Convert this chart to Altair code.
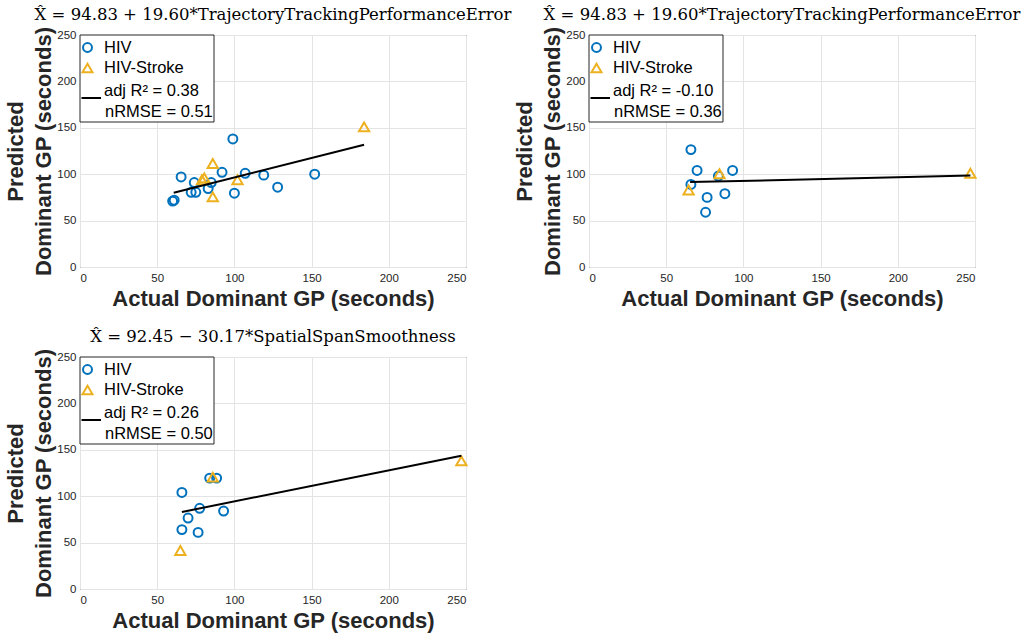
import altair as alt
import pandas as pd

# ---- data -------------------------------------------------------------
groups = ["HIV", "HIV-Stroke"]
group_colors = ["#0072BD", "#EDB120"]
group_shapes = ["circle", "triangle-up"]

titles = [
    "X\u0302 = 94.83 + 19.60*TrajectoryTrackingPerformanceError",
    "X\u0302 = 94.83 + 19.60*TrajectoryTrackingPerformanceError",
    "X\u0302 = 92.45 \u2212 30.17*SpatialSpanSmoothness",
]
adj_r2 = ["0.38", "-0.10", "0.26"]
nrmse = ["0.51", "0.36", "0.50"]

# panel 1
hiv_x_1 = [60, 61, 65.5, 72, 75, 74, 83, 85, 92, 99, 100, 107, 119, 128, 152]
hiv_y_1 = [71, 72, 97, 80.5, 80.5, 91, 84.5, 91, 102, 138, 79.5, 101, 99, 86, 100]
str_x_1 = [184, 86, 79, 80.5, 102, 86]
str_y_1 = [151, 111.5, 94, 96, 94, 75.5]
fit_x_1 = [60.7, 184]
fit_y_1 = [80, 131.7]

# panel 2
hiv_x_2 = [66, 70, 93, 66, 76.5, 75.5, 88, 83.8]
hiv_y_2 = [126.5, 104, 104, 89, 75, 59, 79, 98]
str_x_2 = [64.5, 84.5, 247]
str_y_2 = [83, 100.5, 101]
fit_x_2 = [65.5, 247]
fit_y_2 = [91.5, 98.5]

# panel 3
hiv_x_3 = [84, 88.5, 66, 77.5, 93, 70, 66, 76.5]
hiv_y_3 = [119.5, 119.5, 104, 87, 84, 76.5, 64, 61]
str_x_3 = [86, 65, 247]
str_y_3 = [120.5, 41.5, 138]
fit_x_3 = [66, 247]
fit_y_3 = [83, 143.5]

tick_values = [0, 50, 100, 150, 200, 250]

W, H = 386, 232
SANS = "Liberation Sans"
AXIS_GREY = "#262626"


def scatter_frame(hx, hy, sx, sy):
    rows = [{"actual": x, "pred": y, "group": groups[0]} for x, y in zip(hx, hy)]
    rows += [{"actual": x, "pred": y, "group": groups[1]} for x, y in zip(sx, sy)]
    return pd.DataFrame(rows)


x_axis = alt.Axis(
    title="Actual Dominant GP (seconds)", values=tick_values, grid=True,
    gridColor="#e4e4e4", domain=False, ticks=False,
    labelFont=SANS, labelFontSize=11.5, labelColor=AXIS_GREY, labelPadding=5,
    titleFont=SANS, titleFontSize=22, titleFontWeight="bold",
    titleColor=AXIS_GREY, titlePadding=5,
)
y_axis = alt.Axis(
    title=["Predicted", "Dominant GP (seconds)"], values=tick_values, grid=True,
    gridColor="#e4e4e4", domain=False, ticks=False,
    labelFont=SANS, labelFontSize=11.5, labelColor=AXIS_GREY, labelPadding=4,
    titleFont=SANS, titleFontSize=22, titleFontWeight="bold",
    titleColor=AXIS_GREY, titlePadding=1, titleLineHeight=28,
)
x_scale = alt.Scale(domain=[0, 250], nice=False)
y_scale = alt.Scale(domain=[0, 250], nice=False)

one_row = alt.Data(values=[{}])


def legend_layers(r2, rmse):
    box = alt.Chart(one_row).mark_rect(
        fill="white", stroke=AXIS_GREY, strokeWidth=1
    ).encode(x=alt.value(0), x2=alt.value(134), y=alt.value(0), y2=alt.value(87))

    layers = [box]
    for i, (g, c, s) in enumerate(zip(groups, group_colors, group_shapes)):
        ypos = 12.5 + 20.5 * i
        layers.append(
            alt.Chart(one_row).mark_point(
                shape=s, filled=False, color=c, strokeWidth=2, opacity=1,
                size=80 if s == "circle" else 100,
            ).encode(x=alt.value(7.5), y=alt.value(ypos))
        )
        layers.append(
            alt.Chart(one_row).mark_text(
                text=g, font=SANS, fontSize=16.5, align="left", baseline="middle",
                color="black",
            ).encode(x=alt.value(24), y=alt.value(ypos))
        )
    layers.append(
        alt.Chart(one_row).mark_rule(color="black", strokeWidth=2).encode(
            x=alt.value(1.5), x2=alt.value(21), y=alt.value(63)
        )
    )
    layers.append(
        alt.Chart(one_row).mark_text(
            text=f"adj R\u00b2  = {r2}", font=SANS, fontSize=16.5, align="left",
            baseline="middle", color="black",
        ).encode(x=alt.value(24), y=alt.value(56))
    )
    layers.append(
        alt.Chart(one_row).mark_text(
            text=f"nRMSE = {rmse}", font=SANS, fontSize=16.5, align="left",
            baseline="middle", color="black",
        ).encode(x=alt.value(25), y=alt.value(77))
    )
    return layers


def panel(title, hx, hy, sx, sy, fx, fy, r2, rmse):
    pts = alt.Chart(scatter_frame(hx, hy, sx, sy)).mark_point(
        filled=False, strokeWidth=2, opacity=1
    ).encode(
        x=alt.X("actual:Q", scale=x_scale, axis=x_axis),
        y=alt.Y("pred:Q", scale=y_scale, axis=y_axis),
        color=alt.Color("group:N", scale=alt.Scale(domain=groups, range=group_colors), legend=None),
        shape=alt.Shape("group:N", scale=alt.Scale(domain=groups, range=group_shapes), legend=None),
        size=alt.Size("group:N", scale=alt.Scale(domain=groups, range=[80, 105]), legend=None),
    )
    fit = alt.Chart(pd.DataFrame({"actual": fx, "pred": fy})).mark_line(
        color="black", strokeWidth=2
    ).encode(x="actual:Q", y="pred:Q")

    return alt.layer(pts, fit, *legend_layers(r2, rmse)).properties(
        width=W, height=H,
        title=alt.TitleParams(
            text=title, font="DejaVu Serif", fontSize=16.5, fontWeight="normal",
            color="black", anchor="middle", offset=3,
        ),
    )


p1 = panel(titles[0], hiv_x_1, hiv_y_1, str_x_1, str_y_1, fit_x_1, fit_y_1, adj_r2[0], nrmse[0])
p2 = panel(titles[1], hiv_x_2, hiv_y_2, str_x_2, str_y_2, fit_x_2, fit_y_2, adj_r2[1], nrmse[1])
p3 = panel(titles[2], hiv_x_3, hiv_y_3, str_x_3, str_y_3, fit_x_3, fit_y_3, adj_r2[2], nrmse[2])

chart = alt.concat(
    p1, p2, p3, columns=2, spacing={"row": 90, "column": 123}, bounds="flush"
).properties(
    padding={"left": 4, "top": 6, "right": 2, "bottom": 2},
    background="white",
).configure_view(
    stroke=AXIS_GREY, strokeWidth=1
)

chart.save("out.html", embed_options={"renderer": "svg", "actions": False})
